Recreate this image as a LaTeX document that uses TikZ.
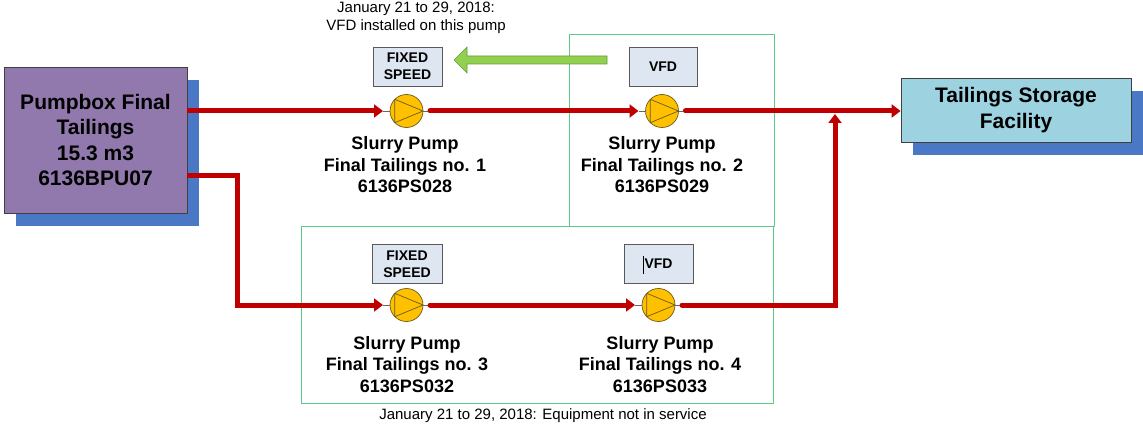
\documentclass[tikz,border=0pt]{standalone}
\usepackage{fontspec}
\setmainfont{Liberation Sans}
\usetikzlibrary{arrows.meta,calc,shadows}
\definecolor{pbpurple}{HTML}{9179AD}
\definecolor{shblue}{HTML}{4A78C4}
\definecolor{tscyan}{HTML}{9DD3E0}
\definecolor{pipered}{HTML}{C00000}
\definecolor{pumpfill}{HTML}{FFC000}
\definecolor{pumpedge}{HTML}{6B5A1E}
\definecolor{gbox}{HTML}{5CC987}
\definecolor{lblfill}{HTML}{DEE6F2}
\definecolor{arrgreen}{HTML}{92D050}
\definecolor{arredge}{HTML}{6A9A3A}
\begin{document}
\begin{tikzpicture}[x=1pt,y=-1pt,
  bigbox/.style={draw=black!75, line width=0.8pt, inner sep=0pt, align=center,
    font=\fontsize{21}{25.5}\selectfont\bfseries,
    general shadow={fill=shblue, shadow xshift=12pt, shadow yshift=-13pt, opacity=1}},
  lblbox/.style={draw=black!65, line width=0.8pt, fill=lblfill, minimum width=69pt,
    minimum height=39pt, inner sep=0pt, align=center, font=\fontsize{14}{17}\selectfont\bfseries},
  pump/.style={circle, draw=pumpedge, line width=0.7pt, fill=pumpfill, minimum size=33pt,
    inner sep=0pt, outer sep=0pt},
  plabel/.style={align=center, inner sep=0pt, font=\fontsize{18}{21.5}\selectfont\bfseries},
  note/.style={align=center, inner sep=0pt, font=\fontsize{15}{18}\selectfont},
  pipe/.style={draw=pipered, line width=5pt},
  pipearrow/.style={pipe, -{Triangle[length=9pt,width=13pt]}},
  stub/.style={draw=black!60, line width=0.8pt},
  gframe/.style={draw=gbox, line width=0.9pt}]
\useasboundingbox (0,0) rectangle (1143,425);

% green frames
\draw[gframe] (569,34) rectangle (774,226);
\draw[gframe] (301,226) rectangle (773,403);

% main boxes
\node[bigbox, fill=pbpurple, minimum width=183pt, minimum height=146pt] (pb) at (95.5,140)
  {Pumpbox Final\\Tailings\\15.3 m3\\6136BPU07};
\node[bigbox, fill=tscyan, minimum width=230pt, minimum height=64pt] (ts) at (1016,110)
  {Tailings Storage\\Facility};

% pumps
\node[pump] (p1) at (406.5,111) {};
\node[pump] (p2) at (662,111) {};
\node[pump] (p3) at (406.5,305) {};
\node[pump] (p4) at (658.5,305) {};
\foreach \p in {p1,p2,p3,p4}{
  \draw[pumpedge, line width=0.7pt, line join=round] (\p.135) -- (\p.east) -- (\p.225) -- cycle;
  \draw[stub] ([xshift=-7pt]\p.west) -- (\p.west);
  \draw[stub] (\p.east) -- ([xshift=7pt]\p.east);
}

% speed boxes
\node[lblbox] (f1) at (407.5,66.5) {FIXED\\SPEED};
\node[lblbox, minimum width=68pt] (v2) at (663,66.5) {VFD};
\node[lblbox, minimum width=70pt] (f3) at (407,264) {FIXED\\SPEED};
\node[lblbox] (v4) at (658.5,264) {VFD};
\draw[line width=0.8pt] (643,256) -- (643,274);

% pipes
\coordinate (jn) at (835,111);
\draw[pipearrow] (pb.east |- p1) -- ([xshift=-7pt]p1.west);
\draw[pipearrow, line cap=round] ([xshift=7pt]p1.east) -- ([xshift=-7pt]p2.west);
\draw[pipearrow, line cap=round] ([xshift=7pt]p2.east) -- (ts.west |- p2);
\draw[pipearrow, line join=miter] ([yshift=-35pt]pb.east) -- ([yshift=-35pt,xshift=50pt]pb.east) |- ([xshift=-7pt]p3.west);
\draw[pipearrow, line cap=round] ([xshift=7pt]p3.east) -- ([xshift=-7pt]p4.west);
\draw[pipearrow, line cap=round, line join=miter] ([xshift=7pt]p4.east) -| ([yshift=-3pt]jn);

% green arrow (VFD moved)
\coordinate (gt) at (607,60);
\coordinate (gh) at (454,60);
\filldraw[fill=arrgreen, draw=arredge, line width=0.6pt, line join=miter]
  ($(gt)+(0,-4)$) -- ($(gh)+(13,-4)$) -- ($(gh)+(13,-13)$) -- (gh) -- ($(gh)+(13,13)$)
  -- ($(gh)+(13,4)$) -- ($(gt)+(0,4)$) -- cycle;

% pump labels
\node[plabel] (l1) at (405,165) {Slurry Pump\\Final Tailings no. 1\\6136PS028};
\node[plabel] (l2) at (662,165) {Slurry Pump\\Final Tailings no. 2\\6136PS029};
\node[plabel] (l3) at (407,364.5) {Slurry Pump\\Final Tailings no. 3\\6136PS032};
\node[plabel] (l4) at (660,364.5) {Slurry Pump\\Final Tailings no. 4\\6136PS033};

% notes
\node[note] (n1) at (416,18) {January 21 to 29, 2018:\\VFD installed on this pump};
\node[note] (n2) at (543,416) {January 21 to 29, 2018: Equipment not in service};
\end{tikzpicture}
\end{document}
